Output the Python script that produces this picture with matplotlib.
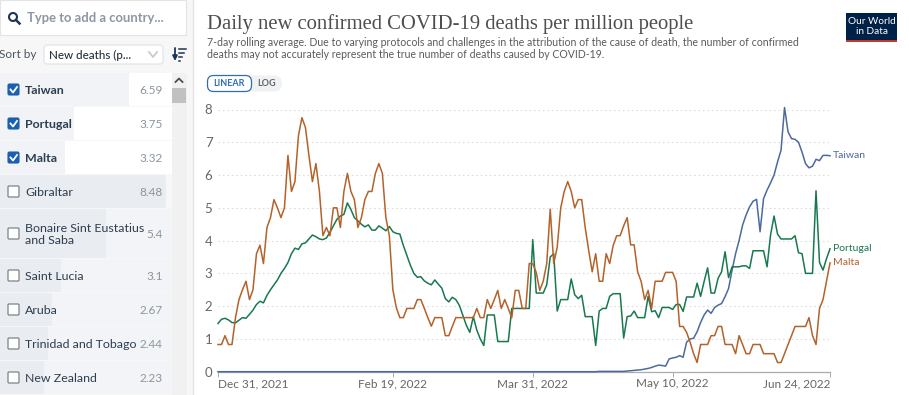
import pandas as pd
import matplotlib
matplotlib.use("Agg")
import matplotlib.pyplot as plt
from matplotlib.patches import Rectangle, FancyBboxPatch, Circle

plt.rcParams["font.family"] = ["Lato", "DejaVu Sans"]

dates = pd.date_range("2021-12-31", periods=176)

taiwan = [
    0.0, 0.0, 0.0, 0.0, 0.0, 0.0, 0.0, 0.0, 0.0, 0.0, 0.0, 0.0, 0.0, 0.0, 0.0, 0.0, 0.0, 0.0, 0.0, 0.0,
    0.0, 0.0, 0.0, 0.0, 0.0, 0.0, 0.0, 0.0, 0.0, 0.0, 0.0, 0.0, 0.0, 0.0, 0.0, 0.0, 0.0, 0.0, 0.0, 0.0,
    0.0, 0.0, 0.0, 0.0, 0.0, 0.0, 0.0, 0.0, 0.0, 0.0, 0.0, 0.0, 0.0, 0.0, 0.0, 0.0, 0.0, 0.0, 0.0, 0.0,
    0.0, 0.0, 0.0, 0.0, 0.0, 0.0, 0.0, 0.0, 0.0, 0.0, 0.0, 0.0, 0.0, 0.0, 0.0, 0.0, 0.0, 0.0, 0.0, 0.0,
    0.0, 0.0, 0.0, 0.0, 0.0, 0.0, 0.0, 0.0, 0.0, 0.0, 0.0, 0.0, 0.0, 0.0, 0.0, 0.0, 0.0, 0.0, 0.0, 0.0,
    0.0, 0.0, 0.0, 0.0, 0.0, 0.0, 0.0, 0.0, 0.0, 0.01, 0.01, 0.01, 0.01, 0.01, 0.01, 0.01, 0.01, 0.02, 0.03, 0.04,
    0.05, 0.06, 0.08, 0.10, 0.13, 0.17, 0.20, 0.19, 0.17, 0.39, 0.42, 0.44, 0.49, 0.44, 0.90, 1.00, 1.02, 1.22, 1.50, 1.73,
    1.88, 1.78, 1.96, 2.03, 2.08, 2.29, 2.54, 3.10, 3.60, 4.00, 4.47, 4.78, 5.03, 5.20, 5.26, 4.27, 5.28, 5.54, 5.76, 6.00,
    6.40, 6.76, 8.06, 7.32, 7.11, 7.09, 7.00, 6.70, 6.35, 6.22, 6.27, 6.48, 6.44, 6.60, 6.60, 6.59,
]
portugal = [
    1.47, 1.60, 1.63, 1.58, 1.50, 1.49, 1.57, 1.65, 1.63, 1.75, 1.88, 2.05, 2.15, 2.10, 2.33, 2.50, 2.65, 2.80, 3.00, 3.15,
    3.33, 3.60, 3.77, 3.73, 3.90, 3.93, 4.05, 4.17, 4.12, 4.05, 4.03, 4.08, 4.25, 4.45, 4.65, 4.75, 4.80, 5.15, 4.95, 4.70,
    4.60, 4.50, 4.42, 4.48, 4.32, 4.32, 4.45, 4.38, 4.30, 4.43, 4.27, 4.22, 4.20, 3.85, 3.55, 3.25, 3.00, 2.88, 2.90, 2.77,
    2.70, 2.65, 2.80, 2.67, 2.55, 2.23, 2.13, 2.27, 2.20, 2.03, 1.73, 1.42, 1.20, 1.68, 1.27, 1.00, 0.80, 1.73, 1.73, 1.73,
    0.92, 0.92, 0.92, 0.92, 1.93, 1.93, 1.93, 1.93, 1.93, 1.93, 4.03, 2.40, 2.40, 2.40, 2.65, 3.50, 3.60, 1.85, 2.20, 2.20,
    2.20, 2.83, 2.35, 2.23, 2.33, 1.68, 1.68, 1.68, 0.80, 1.85, 1.93, 1.93, 2.30, 2.38, 2.38, 2.38, 1.03, 1.68, 1.70, 1.85,
    1.65, 1.65, 1.65, 2.30, 1.83, 1.86, 1.65, 1.96, 1.96, 1.96, 1.90, 2.05, 2.05, 1.84, 2.28, 2.28, 2.28, 2.70, 2.30, 2.75,
    3.17, 2.40, 2.40, 2.85, 3.05, 3.66, 2.87, 3.20, 3.20, 3.20, 3.23, 3.23, 3.15, 3.69, 3.69, 3.69, 3.69, 3.20, 4.17, 4.75,
    4.20, 4.05, 4.05, 4.05, 4.05, 4.15, 3.63, 3.60, 3.00, 3.00, 3.00, 5.52, 3.33, 3.10, 3.45, 3.75,
]
malta = [
    0.83, 0.83, 1.10, 0.83, 0.83, 1.65, 2.20, 2.50, 2.76, 2.20, 2.50, 3.60, 3.86, 3.30, 4.40, 4.70, 5.25, 5.00, 4.70, 5.00,
    6.60, 5.50, 5.80, 7.20, 7.75, 7.45, 6.60, 5.80, 6.35, 5.50, 4.15, 4.40, 4.15, 5.00, 5.00, 4.40, 5.50, 6.05, 5.50, 5.25,
    4.40, 4.70, 5.25, 5.50, 5.50, 6.05, 6.35, 6.05, 4.70, 4.15, 2.50, 1.95, 1.65, 1.65, 1.93, 1.93, 1.93, 2.20, 2.20, 1.93,
    1.65, 1.39, 1.65, 1.65, 1.65, 1.10, 1.10, 1.38, 1.65, 1.65, 1.65, 1.65, 1.65, 1.65, 1.93, 1.65, 1.65, 2.20, 1.93, 2.20,
    2.48, 1.93, 2.20, 1.93, 1.65, 2.48, 2.48, 1.93, 1.93, 3.30, 3.30, 3.03, 2.48, 2.76, 3.30, 4.96, 3.30, 3.80, 5.00, 5.50,
    5.80, 5.50, 5.00, 5.25, 5.25, 4.40, 3.70, 3.05, 3.60, 2.76, 2.76, 3.60, 3.30, 3.85, 4.15, 4.15, 4.45, 4.70, 3.87, 3.87,
    3.05, 2.75, 2.20, 2.48, 1.93, 2.76, 2.76, 2.76, 3.03, 3.03, 3.03, 2.76, 1.38, 1.38, 1.20, 0.90, 0.55, 0.28, 0.83, 0.83,
    0.83, 1.10, 1.10, 1.38, 1.38, 0.83, 0.83, 0.83, 0.55, 1.10, 0.83, 0.55, 0.55, 0.83, 0.83, 0.83, 0.55, 0.55, 0.55, 0.55,
    0.28, 0.28, 0.55, 0.83, 1.10, 1.38, 1.38, 1.38, 1.38, 1.65, 1.10, 0.83, 1.93, 2.20, 2.76, 3.32,
]

y_ticks = [0, 1, 2, 3, 4, 5, 6, 7, 8]
x_ticks = ["2021-12-31", "2022-02-19", "2022-03-31", "2022-05-10", "2022-06-24"]
x_labels = ["Dec 31, 2021", "Feb 19, 2022", "Mar 31, 2022", "May 10, 2022", "Jun 24, 2022"]

row_names = ["Taiwan", "Portugal", "Malta", "Gibraltar", "Bonaire Sint Eustatius\nand Saba",
             "Saint Lucia", "Aruba", "Trinidad and Tobago", "New Zealand"]
row_values = [6.59, 3.75, 3.32, 8.48, 5.4, 3.1, 2.67, 2.44, 2.23]
row_checked = [True, True, True, False, False, False, False, False, False]
row_tops = [73, 107, 141, 175, 209, 259, 293, 327, 361, 395]

W, H = 909, 395
DARK = "#2d3e50"
GREY = "#5b5b5b"
TAIWAN = "#4c6a9c"
PORTUGAL = "#18794e"
MALTA = "#b4622a"

fig = plt.figure(figsize=(W / 100, H / 100), dpi=100, facecolor="white")

# page furniture, in pixel coordinates
ui = fig.add_axes([0, 0, 1, 1])
ui.set_xlim(0, W)
ui.set_ylim(H, 0)
ui.axis("off")

ui.add_patch(Rectangle((0, 0), 193, H, fc="#f7f7f7", ec="none"))
ui.plot([193, 193], [0, H], color="#e3e3e3", lw=1)

# search box
ui.add_patch(Rectangle((0, 0), 186, 35, fc="white", ec="#e4e4e4", lw=0.8))
ui.add_patch(Circle((13, 17), 4, fc="none", ec="#1d3557", lw=1.5))
ui.plot([16, 19.5], [20, 23.5], color="#1d3557", lw=1.8)
ui.text(27, 18, "Type to add a country...", fontsize=9.4, color="#8b97a3", va="center", weight="bold")

# sort controls
ui.text(-1, 55, "Sort by", fontsize=8.5, color="#4a5560", va="center")
ui.add_patch(FancyBboxPatch((44, 45), 119, 19, boxstyle="round,pad=0,rounding_size=3",
                            fc="white", ec="#dfe2e6", lw=0.8))
ui.text(49, 55, "New deaths (p...", fontsize=8.4, color="#26323d", va="center", weight="medium")
ui.plot([149, 153, 157], [52, 57, 52], color="#c4c8cc", lw=1.2)
ui.annotate("", xy=(175, 61), xytext=(175, 48),
            arrowprops=dict(arrowstyle="-|>", color="#1d3557", lw=1.3, mutation_scale=7, shrinkA=0, shrinkB=0))
for y, x1 in zip([49, 53, 57, 61], [186, 184, 182, 180]):
    ui.plot([179, x1], [y, y], color="#1d3557", lw=1.1)

# country rows, bar length follows the value
for i, name in enumerate(row_names):
    top, bottom = row_tops[i], row_tops[i + 1] - 1
    checked = row_checked[i]
    right = 172 if i != 3 else 166
    ui.add_patch(Rectangle((0, top), right, bottom - top, fc="white" if checked else "#f2f4f7", ec="none"))
    ui.add_patch(Rectangle((0, top), row_values[i] * 19.6, bottom - top,
                           fc="#f1f3f6" if checked else "#e9ecf0", ec="none"))
    mid = (top + bottom) / 2
    if checked:
        ui.add_patch(FancyBboxPatch((8, mid - 5.5), 11, 11, boxstyle="round,pad=0,rounding_size=1.5",
                                    fc="#1a5fb4", ec="#1a5fb4", lw=0.8))
        ui.plot([10.5, 13, 17], [mid, mid + 3, mid - 2.5], color="white", lw=1.3)
    else:
        ui.add_patch(FancyBboxPatch((8, mid - 5.5), 11, 11, boxstyle="round,pad=0,rounding_size=1",
                                    fc="white", ec="#7b838b", lw=0.9))
    ui.text(25, mid + 1, name, fontsize=8.9, color=DARK, va="center", linespacing=1.15,
            weight="bold" if checked else "normal")
    ui.text(163, mid + 1, f"{row_values[i]}", fontsize=8.5, color="#8d959d", va="center", ha="right")

# scrollbar
ui.add_patch(Rectangle((172, 73), 15, H - 73, fc="#f1f1f1", ec="none"))
ui.add_patch(Rectangle((172, 88), 14, 15, fc="#c1c1c1", ec="none"))
ui.plot([175.5, 179, 182.5], [82, 78.5, 82], color="#505050", lw=1.3)

# header
ui.text(207, 24, "Daily new confirmed COVID-19 deaths per million people",
        fontsize=14.9, family=["Liberation Serif"], color="#4e4e4e", va="center")
ui.text(207, 42, "7-day rolling average. Due to varying protocols and challenges in the attribution of the cause of death, the number of confirmed",
        fontsize=7.6, color=GREY, va="center")
ui.text(207, 55, "deaths may not accurately represent the true number of deaths caused by COVID-19.",
        fontsize=7.6, color=GREY, va="center")

# linear / log toggle
ui.add_patch(FancyBboxPatch((208, 75.5), 74, 16, boxstyle="round,pad=0,rounding_size=8",
                            fc="#f0f1f3", ec="none"))
ui.add_patch(FancyBboxPatch((207.5, 75.5), 44, 16, boxstyle="round,pad=0,rounding_size=6",
                            fc="white", ec="#2c6fb3", lw=0.9))
ui.text(229.5, 84, "LINEAR", fontsize=6.5, color="#2c6fb3", weight="bold", ha="center", va="center")
ui.text(267, 84, "LOG", fontsize=6.5, color="#5b6670", weight="bold", ha="center", va="center")

# logo
ui.add_patch(Rectangle((846, 13), 51, 29, fc="#002147", ec="none"))
ui.add_patch(Rectangle((846, 39.5), 51, 2.5, fc="#c0392b", ec="none"))
ui.text(871.5, 21, "Our World", fontsize=7.2, color="white", ha="center", va="center")
ui.text(871.5, 32, "in Data", fontsize=7.2, color="white", ha="center", va="center")

# chart
x_left, x_right, y_top, y_zero = 218, 830, 109.5, 371.7
ax = fig.add_axes([x_left / W, 1 - y_zero / H, (x_right - x_left) / W, (y_zero - y_top) / H])
ax.patch.set_alpha(0)
ax.set_xlim(dates[0], dates[-1])
ax.set_ylim(0, 8)
for s in ["top", "left", "right"]:
    ax.spines[s].set_visible(False)
ax.spines["bottom"].set_color("#a8adb3")
ax.spines["bottom"].set_linewidth(0.9)
ax.set_yticks(y_ticks)
ax.tick_params(axis="y", length=0, labelsize=9.5, labelcolor="#666666", pad=4)
ax.grid(axis="y", color="#dddddd", linestyle=(0, (1.5, 2.5)), linewidth=0.8)
ax.set_axisbelow(True)

ax.plot(dates, taiwan, color=TAIWAN, lw=1.1, clip_on=False, zorder=3)
ax.plot(dates, portugal, color=PORTUGAL, lw=1.1, clip_on=False, zorder=4)
ax.plot(dates, malta, color=MALTA, lw=1.1, clip_on=False, zorder=5)

tick_dates = pd.to_datetime(x_ticks)
ax.set_xticks(tick_dates)
ax.set_xticklabels(x_labels)
ax.tick_params(axis="x", length=3.5, width=0.7, color="#a8adb3", labelsize=8.5, labelcolor="#666666", pad=1)
labels = ax.get_xticklabels()
labels[0].set_ha("left")
labels[-1].set_ha("right")

ax.annotate("Taiwan", xy=(dates[-1], taiwan[-1]), xytext=(3, 0), textcoords="offset pixels",
            fontsize=7.5, color=TAIWAN, va="center", annotation_clip=False)
ax.annotate("Portugal", xy=(dates[-1], portugal[-1]), xytext=(3, 0), textcoords="offset pixels",
            fontsize=7.5, color=PORTUGAL, va="center", annotation_clip=False)
ax.annotate("Malta", xy=(dates[-1], malta[-1]), xytext=(3, 0), textcoords="offset pixels",
            fontsize=7.5, color=MALTA, va="center", annotation_clip=False)

fig.savefig("out.png", dpi=100)
